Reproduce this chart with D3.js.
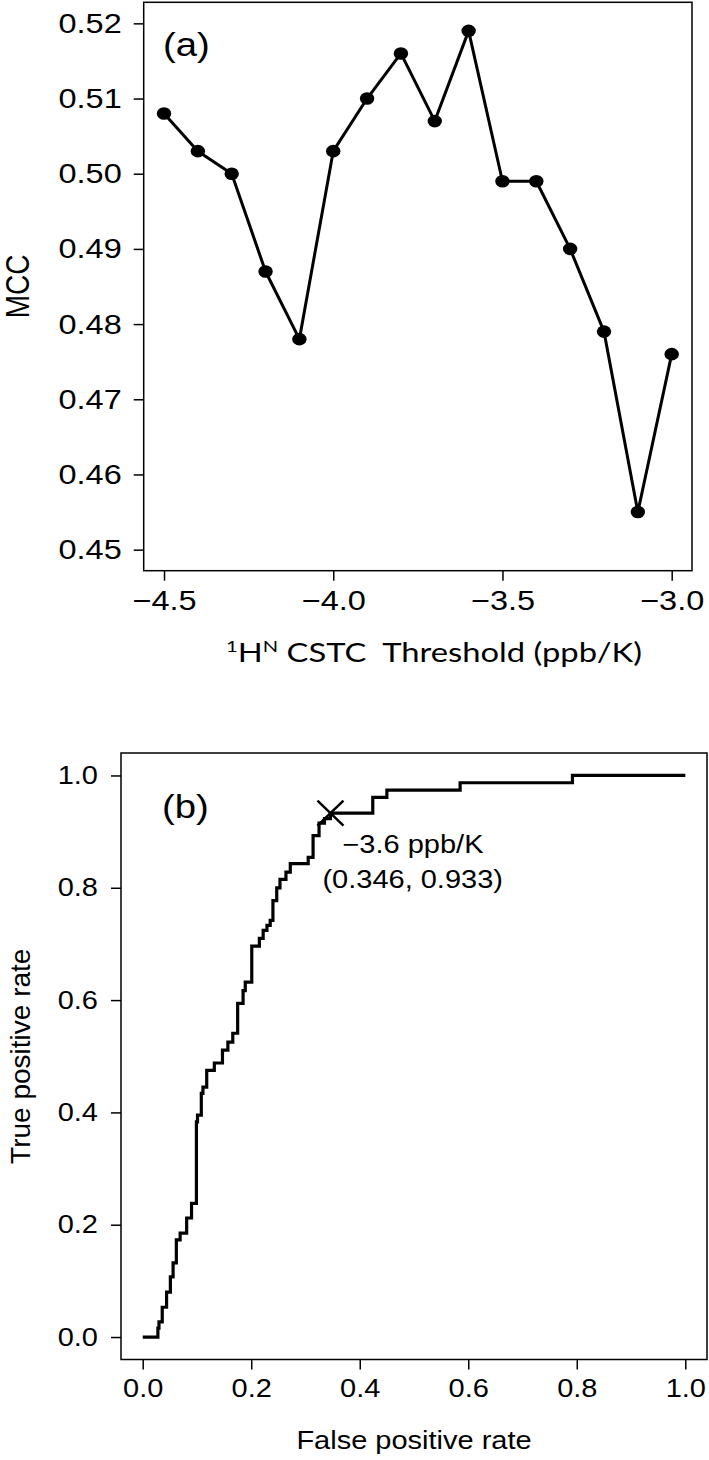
<!DOCTYPE html>
<html>
<head>
<meta charset="utf-8">
<script src="https://cdn.jsdelivr.net/npm/d3@7"></script>
<style>
  html, body { margin: 0; padding: 0; background: #fff; }
  svg { display: block; }
  text { font-family: "Liberation Sans", Arial, sans-serif; fill: #000; }
  .calibri { font-family: Lato, "Open Sans", sans-serif; }
</style>
</head>
<body>
<svg id="fig" width="709" height="1460"></svg>
<script>
// panel (a): MCC against the CSTC threshold
const thresholds = [-4.5, -4.4, -4.3, -4.2, -4.1, -4.0, -3.9, -3.8,
                    -3.7, -3.6, -3.5, -3.4, -3.3, -3.2, -3.1, -3.0];
const mcc = [0.508, 0.503, 0.500, 0.487, 0.478, 0.503, 0.510, 0.516,
             0.507, 0.519, 0.499, 0.499, 0.490, 0.479, 0.455, 0.476];
const thresholdTicks = [-4.5, -4.0, -3.5, -3.0];
const mccTicks = [0.45, 0.46, 0.47, 0.48, 0.49, 0.50, 0.51, 0.52];

// panel (b): ROC curve (right, then up at each point)
const rocFpr = [0, 0.028, 0.030, 0.036, 0.044, 0.051, 0.056, 0.062, 0.069, 0.081,
                0.090, 0.099, 0.101, 0.108, 0.111, 0.118, 0.132, 0.147, 0.157, 0.166,
                0.175, 0.185, 0.189, 0.201, 0.215, 0.222, 0.229, 0.235, 0.240, 0.247,
                0.253, 0.264, 0.272, 0.305, 0.314, 0.325, 0.335, 0.346, 0.424, 0.450,
                0.585, 0.792, 1.000];
const rocTpr = [0, 0.016, 0.027, 0.053, 0.080, 0.107, 0.132, 0.173, 0.185, 0.212,
                0.238, 0.383, 0.395, 0.434, 0.445, 0.475, 0.488, 0.511, 0.525, 0.541,
                0.594, 0.617, 0.632, 0.696, 0.710, 0.724, 0.733, 0.742, 0.777, 0.800,
                0.815, 0.828, 0.843, 0.854, 0.893, 0.915, 0.923, 0.933, 0.961, 0.974,
                0.987, 1.000, 1.000];
const rateTicks = [0, 0.2, 0.4, 0.6, 0.8, 1.0];
const bestFpr = 0.346, bestTpr = 0.933;
const bestLabel = "\u22123.6 ppb/K";
const bestCoords = "(0.346, 0.933)";

const SX = 1.16; // the original figure is stretched sideways a bit

const svg = d3.select("#fig");

// put a text at (x, y) and widen it by SX
const stretch = (sel) => {
    sel.each(function () {
        const t = d3.select(this);
        const x = +t.attr("x") || 0, y = +t.attr("y") || 0;
        t.attr("x", 0).attr("y", 0)
         .attr("transform", `translate(${x},${y}) scale(${SX},1)`);
    });
};

const addText = (g, x, y, str, size, anchor) => {
    const t = g.append("text")
        .attr("x", x).attr("y", y)
        .attr("font-size", size)
        .attr("text-anchor", anchor || "start")
        .text(str);
    stretch(t);
    return t;
};

const addYTitle = (g, x, y, str, size, sx) => {
    g.append("text")
        .attr("transform", `translate(${x},${y}) scale(${sx},1) rotate(-90)`)
        .attr("font-size", size)
        .attr("text-anchor", "middle")
        .text(str);
};

const styleAxis = (g, size) => {
    g.select(".domain").remove();
    g.selectAll(".tick line").attr("stroke", "#000").attr("stroke-width", 1.5);
    g.selectAll(".tick text")
        .attr("font-size", size)
        .attr("font-family", "Liberation Sans, Arial, sans-serif")
        .attr("fill", "#000");
    stretch(g.selectAll(".tick text"));
};

/* ---------- panel (a) ---------- */
const a = { left: 143.7, right: 692, top: 2.3, bottom: 570.7 };
const xA = d3.scaleLinear().domain([-4.56, -2.94]).range([a.left, a.right]);
const yA = d3.scaleLinear().domain([0.4472, 0.5228]).range([a.bottom, a.top]);

const gA = svg.append("g");

gA.append("g")
    .attr("transform", `translate(${a.left},0)`)
    .call(d3.axisLeft(yA).tickValues(mccTicks).tickFormat(d3.format(".2f"))
        .tickSize(10).tickPadding(12))
    .call(g => styleAxis(g, 28));

gA.append("g")
    .attr("transform", `translate(0,${a.bottom})`)
    .call(d3.axisBottom(xA).tickValues(thresholdTicks).tickFormat(d3.format(".1f"))
        .tickSize(10).tickPadding(9))
    .call(g => styleAxis(g, 28));

gA.append("rect")
    .attr("x", a.left).attr("y", a.top)
    .attr("width", a.right - a.left).attr("height", a.bottom - a.top)
    .attr("fill", "none").attr("stroke", "#000").attr("stroke-width", 1.5);

gA.append("path")
    .datum(thresholds.map((t, i) => [t, mcc[i]]))
    .attr("d", d3.line().x(d => xA(d[0])).y(d => yA(d[1])))
    .attr("fill", "none").attr("stroke", "#000").attr("stroke-width", 3)
    .attr("stroke-linejoin", "round");

gA.selectAll("ellipse")
    .data(thresholds.map((t, i) => [t, mcc[i]]))
    .join("ellipse")
    .attr("cx", d => xA(d[0])).attr("cy", d => yA(d[1]))
    .attr("rx", 7.2).attr("ry", 6.3)
    .attr("fill", "#000");

addText(gA, 163, 56, "(a)", 33);
addYTitle(gA, 29, (a.top + a.bottom) / 2, "MCC", 28, SX);

// x title in a Calibri-like face, with superscripts
const titleA = gA.append("text")
    .attr("class", "calibri")
    .attr("font-size", 26)
    .attr("text-anchor", "middle")
    .style("white-space", "pre");
titleA.append("tspan").attr("font-size", 16).attr("dy", -10).text("1");
titleA.append("tspan").attr("dy", 10).text("H");
titleA.append("tspan").attr("font-size", 16).attr("dy", -10).text("N");
titleA.append("tspan").attr("dy", 10).text(" CSTC  Threshold (ppb/K)");
{
    const w = titleA.node().getComputedTextLength();
    const sx = 416 / w;
    titleA.attr("transform", `translate(434,662) scale(${sx},1)`);
}

/* ---------- panel (b) ---------- */
const b = { left: 121, right: 707, top: 753, bottom: 1359.5 };
const xB = d3.scaleLinear().domain([-0.04, 1.04]).range([b.left, b.right]);
const yB = d3.scaleLinear().domain([-0.04, 1.04]).range([b.bottom, b.top]);

const gB = svg.append("g");

gB.append("g")
    .attr("transform", `translate(${b.left},0)`)
    .call(d3.axisLeft(yB).tickValues(rateTicks).tickFormat(d3.format(".1f"))
        .tickSize(10).tickPadding(13))
    .call(g => styleAxis(g, 25));

gB.append("g")
    .attr("transform", `translate(0,${b.bottom})`)
    .call(d3.axisBottom(xB).tickValues(rateTicks).tickFormat(d3.format(".1f"))
        .tickSize(10).tickPadding(9.5))
    .call(g => styleAxis(g, 25));

gB.append("rect")
    .attr("x", b.left).attr("y", b.top)
    .attr("width", b.right - b.left).attr("height", b.bottom - b.top)
    .attr("fill", "none").attr("stroke", "#000").attr("stroke-width", 1.5);

gB.append("path")
    .datum(rocFpr.map((f, i) => [f, rocTpr[i]]))
    .attr("d", d3.line().curve(d3.curveStepAfter).x(d => xB(d[0])).y(d => yB(d[1])))
    .attr("fill", "none").attr("stroke", "#000").attr("stroke-width", 3.2)
    .attr("stroke-linejoin", "miter");

// cross at the chosen threshold
const cx = xB(bestFpr), cy = yB(bestTpr);
gB.append("path")
    .attr("d", `M${cx - 13},${cy - 12.5}L${cx + 13},${cy + 12.5}M${cx - 13},${cy + 12.5}L${cx + 13},${cy - 12.5}`)
    .attr("stroke", "#000").attr("stroke-width", 2.5).attr("fill", "none");

addText(gB, cx + 12, cy + 40, bestLabel, 25);
addText(gB, cx - 8, cy + 75, bestCoords, 25);

addText(gB, 162, 818, "(b)", 33);
addYTitle(gB, 30, (b.top + b.bottom) / 2, "True positive rate", 28, 1);
addText(gB, (b.left + b.right) / 2, 1449, "False positive rate", 25, "middle");
</script>
</body>
</html>
